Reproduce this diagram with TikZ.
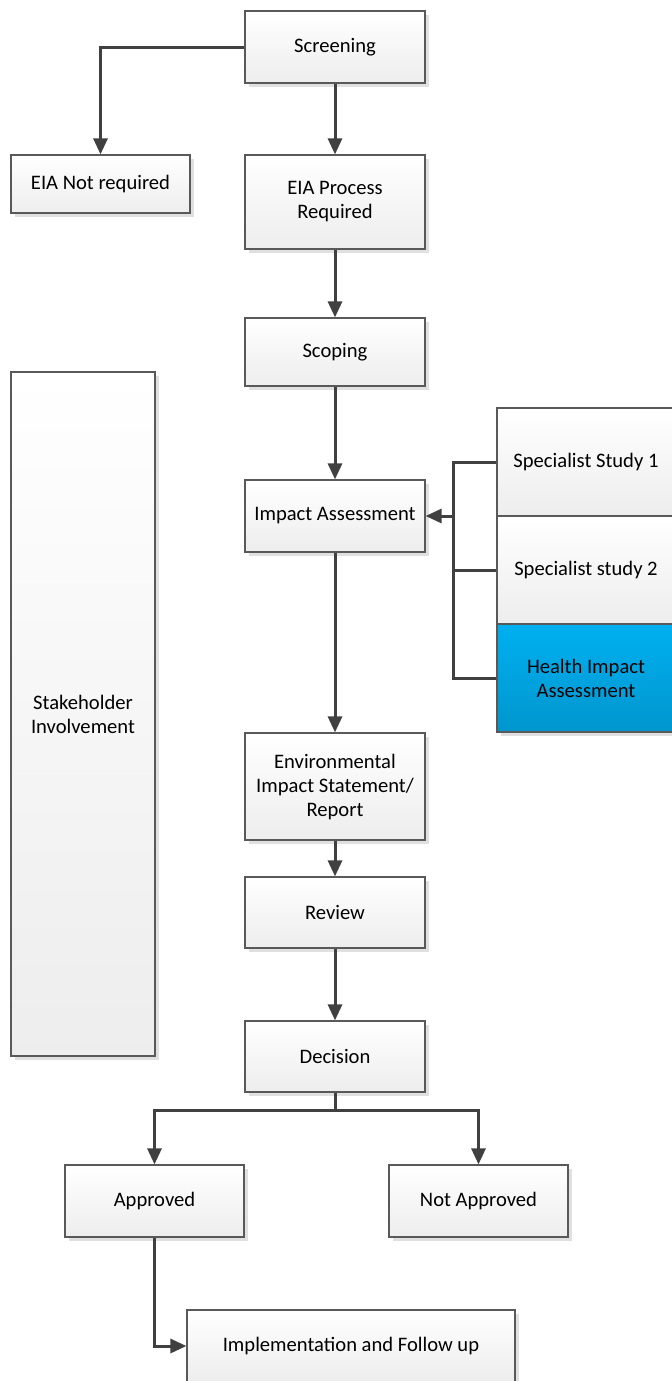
\documentclass[tikz,border=0pt]{standalone}
\usepackage{fontspec}
\setmainfont{Carlito}
\usetikzlibrary{shapes,arrows.meta,shadows}
\definecolor{linegray}{HTML}{404040}
\definecolor{hiatop}{HTML}{00B0F0}
\definecolor{hiabot}{HTML}{0096CE}
\tikzstyle{block} = [draw=black!65, line width=0.6pt, rectangle,
top color=white, bottom color=black!7,
drop shadow={shadow xshift=2pt, shadow yshift=-2pt, fill=black!12, opacity=1},
minimum width=90pt, minimum height=36pt, align=center,
font=\fontsize{10.3}{12}\selectfont]
\tikzstyle{study} = [block, minimum width=89pt, minimum height=54pt]
\tikzstyle{line} = [draw=linegray, line width=1.5pt]

\begin{document}
\begin{tikzpicture}[x=0.5pt, y=-0.5pt, >={Triangle[length=8pt,width=7pt]}]
\useasboundingbox (0,0) rectangle (672,1381);

% main column
\node [block] (screen) at (335,47) {Screening};
\node [block, minimum width=89.5pt, minimum height=29pt] (noreq) at (100.5,184) {EIA Not required};
\node [block, minimum height=47pt] (eiareq) at (335,202) {EIA Process\\Required};
\node [block, minimum height=34pt] (scoping) at (335,352) {Scoping};
\node [block] (impact) at (335,516) {Impact Assessment};
\node [block, minimum height=53.5pt] (eis) at (335,786.5) {Environmental\\Impact Statement/\\Report};
\node [block, minimum height=35.5pt] (review) at (335,912.5) {Review};
\node [block, minimum height=35.5pt] (decision) at (335,1056.5) {Decision};
\node [block, minimum width=89.5pt] (approved) at (154.5,1201) {Approved};
\node [block, minimum width=89.5pt] (notappr) at (478.5,1201) {Not Approved};
\node [block, minimum width=164pt] (impl) at (351,1346) {Implementation and Follow up};

% side boxes
\node [block, minimum width=72pt, minimum height=342pt] (stake) at (83,714) {Stakeholder\\Involvement};
\node [study] (study1) at (586,462) {Specialist Study 1};
\node [study] (study2) at (586,570) {Specialist study 2};
\node [study, top color=hiatop, bottom color=hiabot] (hia) at (586,678) {Health Impact\\Assessment};

% connectors
\draw [line,->] (screen.west) -| (noreq.north);
\draw [line,->] (screen) -- (eiareq);
\draw [line,->] (eiareq) -- (scoping);
\draw [line,->] (scoping) -- (impact);

\coordinate (bus) at (453,516);
\draw [line] (study1.west) -| (bus);
\draw [line] (hia.west) -| (bus);
\draw [line] (study2.west) -- (study2.west -| bus);
\draw [line,->] (bus) -- (impact.east);

\draw [line,->] (impact) -- (eis);
\draw [line,->] (eis) -- (review);
\draw [line,->] (review) -- (decision);

\coordinate (split) at (335,1110);
\draw [line] (decision) -- (split);
\draw [line,->] (split) -| (approved.north);
\draw [line,->] (split) -| (notappr.north);
\draw [line,->] (approved.south) |- (impl.west);
\end{tikzpicture}
\end{document}
